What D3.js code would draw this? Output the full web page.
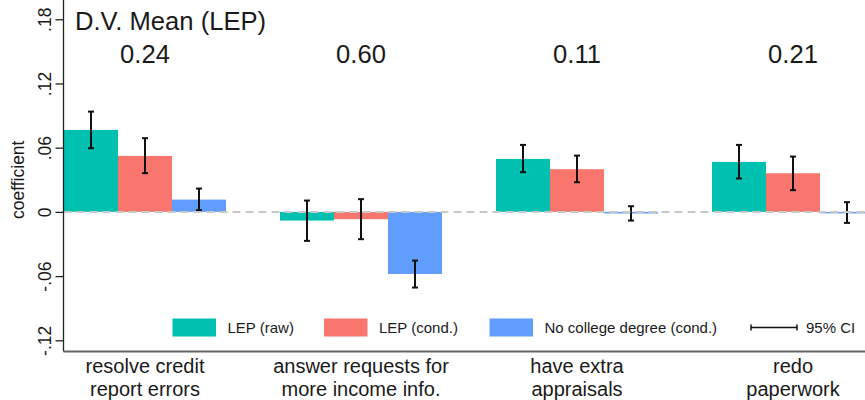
<!DOCTYPE html>
<html lang="en">
<head>
<meta charset="UTF-8">
<title>D.V. Mean (LEP)</title>
<style>
    body { margin: 0; background: #fff; }
    svg { display: block; font-family: "Liberation Sans", Arial, sans-serif; }
</style>
</head>
<body>
<svg></svg>
<script src="https://cdn.jsdelivr.net/npm/d3@7"></script>
<script>
// categories (two-line labels) and the D.V. mean printed above each group
const categories = [
    ["resolve credit", "report errors"],
    ["answer requests for", "more income info."],
    ["have extra", "appraisals"],
    ["redo", "paperwork"]
];
const dvMeans = ["0.24", "0.60", "0.11", "0.21"];

// coefficients and 95% CI bounds
const lepRaw      = [0.0766, -0.0081, 0.0495, 0.0467];
const lepRawLo    = [0.0595, -0.0271, 0.0371, 0.0312];
const lepRawHi    = [0.0937,  0.0106, 0.0626, 0.0626];
const lepCond     = [0.0523, -0.0068, 0.0399, 0.0361];
const lepCondLo   = [0.0362, -0.0255, 0.0277, 0.0203];
const lepCondHi   = [0.0689,  0.0119, 0.0526, 0.0517];
const noCollege   = [0.0115, -0.0580, -0.0015, -0.0010];
const noCollegeLo = [0.0016, -0.0707, -0.0081, -0.0103];
const noCollegeHi = [0.0218, -0.0455,  0.0053,  0.0091];

const seriesNames = ["LEP (raw)", "LEP (cond.)", "No college degree (cond.)"];
const yTicks = [-0.12, -0.06, 0, 0.06, 0.12, 0.18];
const yTickLabels = ["-.12", "-.06", "0", ".06", ".12", ".18"];

const series = [
    { name: seriesNames[0], vals: lepRaw, lo: lepRawLo, hi: lepRawHi, color: "#00c0af" },
    { name: seriesNames[1], vals: lepCond, lo: lepCondLo, hi: lepCondHi, color: "#f8766d" },
    { name: seriesNames[2], vals: noCollege, lo: noCollegeLo, hi: noCollegeHi, color: "#619cff" }
];

const width = 865;
const height = 400;
const axisX = 63.5;
const axisY = 351.5;

const svg = d3.select("svg")
    .attr("width", width)
    .attr("height", height);

// groups run past the right edge, like the cropped original
const x0 = d3.scaleBand()
    .domain(d3.range(categories.length))
    .range([64, 874])
    .paddingInner(0.25)
    .paddingOuter(0);

const x1 = d3.scaleBand()
    .domain(d3.range(series.length))
    .range([0, x0.bandwidth()]);

const y = d3.scaleLinear()
    .domain([-0.13, 0.198])
    .range([351, 0]);

// bars
const groups = svg.append("g")
    .selectAll("g")
    .data(categories)
    .join("g")
    .attr("transform", (d, i) => `translate(${x0(i)},0)`);

groups.selectAll("rect")
    .data((d, i) => series.map((s, j) => ({ j, v: s.vals[i], color: s.color })))
    .join("rect")
    .attr("x", d => x1(d.j))
    .attr("width", x1.bandwidth())
    .attr("y", d => y(Math.max(0, d.v)))
    .attr("height", d => Math.max(1.5, Math.abs(y(d.v) - y(0))))
    .attr("fill", d => d.color);

// dashed zero line on top of the bars
svg.append("line")
    .attr("x1", axisX)
    .attr("x2", width)
    .attr("y1", y(0))
    .attr("y2", y(0))
    .attr("stroke", "#c8c8c8")
    .attr("stroke-width", 2)
    .attr("stroke-dasharray", "8,5");

// error bars
const ci = groups.selectAll("g.ci")
    .data((d, i) => series.map((s, j) => ({ j, lo: s.lo[i], hi: s.hi[i] })))
    .join("g")
    .attr("class", "ci")
    .attr("stroke", "#111")
    .attr("stroke-width", 2)
    .attr("transform", d => `translate(${x1(d.j) + x1.bandwidth() / 2},0)`);

ci.append("line")
    .attr("y1", d => y(d.lo))
    .attr("y2", d => y(d.hi));
ci.append("line")
    .attr("x1", -3).attr("x2", 3)
    .attr("y1", d => y(d.lo)).attr("y2", d => y(d.lo));
ci.append("line")
    .attr("x1", -3).attr("x2", 3)
    .attr("y1", d => y(d.hi)).attr("y2", d => y(d.hi));

// y axis
const yAxis = svg.append("g")
    .attr("transform", `translate(${axisX},0)`)
    .call(d3.axisLeft(y)
        .tickValues(yTicks)
        .tickFormat((d, i) => yTickLabels[i])
        .tickSize(8)
        .tickPadding(4));

yAxis.select(".domain")
    .attr("d", `M0,0V${axisY}`)
    .attr("stroke", "#222")
    .attr("stroke-width", 1.3);
yAxis.selectAll(".tick line").attr("stroke", "#222").attr("stroke-width", 1.3);
yAxis.selectAll(".tick text")
    .attr("font-size", 17.5)
    .attr("fill", "#1a1a1a")
    .attr("text-anchor", "middle")
    .attr("x", 0)
    .attr("dy", 0)
    .attr("transform", "translate(-13,0) rotate(-90)");

svg.append("text")
    .attr("transform", `translate(24,${y(0.03)}) rotate(-90)`)
    .attr("text-anchor", "middle")
    .attr("font-size", 17.5)
    .attr("fill", "#1a1a1a")
    .text("coefficient");

// x axis line
svg.append("line")
    .attr("x1", axisX)
    .attr("x2", width)
    .attr("y1", axisY)
    .attr("y2", axisY)
    .attr("stroke", "#666")
    .attr("stroke-width", 2);

// category labels, one text per line
const labelLines = categories.flatMap((lines, i) =>
    lines.map((t, k) => ({ i, k, t })));

svg.append("g")
    .selectAll("text")
    .data(labelLines)
    .join("text")
    .attr("text-anchor", "middle")
    .attr("font-size", 20)
    .attr("fill", "#1a1a1a")
    .attr("x", d => x0(d.i) + x0.bandwidth() / 2)
    .attr("y", d => d.k === 0 ? 373 : 395.5)
    .text(d => d.t);

// title and D.V. means
svg.append("text")
    .attr("x", 75)
    .attr("y", 29.5)
    .attr("font-size", 25.6)
    .attr("fill", "#1a1a1a")
    .text("D.V. Mean (LEP)");

svg.append("g")
    .selectAll("text")
    .data(dvMeans)
    .join("text")
    .attr("text-anchor", "middle")
    .attr("font-size", 25.6)
    .attr("fill", "#1a1a1a")
    .attr("x", (d, i) => x0(i) + x0.bandwidth() / 2)
    .attr("y", 63)
    .text(d => d);

// legend
const legendBoxX = [172.5, 324, 489.5];
const legend = svg.append("g")
    .attr("font-size", 15)
    .attr("fill", "#1a1a1a");

legend.selectAll("rect")
    .data(series)
    .join("rect")
    .attr("x", (d, i) => legendBoxX[i])
    .attr("y", 318.5)
    .attr("width", 43.5)
    .attr("height", 18)
    .attr("fill", d => d.color);

legend.selectAll("text.item")
    .data(series)
    .join("text")
    .attr("class", "item")
    .attr("x", (d, i) => legendBoxX[i] + 55)
    .attr("y", 333)
    .text(d => d.name);

const ciKey = legend.append("g")
    .attr("stroke", "#111")
    .attr("stroke-width", 1.5);
ciKey.append("line").attr("x1", 751).attr("x2", 797).attr("y1", 327.5).attr("y2", 327.5);
ciKey.append("line").attr("x1", 751).attr("x2", 751).attr("y1", 324.5).attr("y2", 330.5);
ciKey.append("line").attr("x1", 797).attr("x2", 797).attr("y1", 324.5).attr("y2", 330.5);

legend.append("text")
    .attr("x", 806)
    .attr("y", 333)
    .text("95% CI");
</script>
</body>
</html>
